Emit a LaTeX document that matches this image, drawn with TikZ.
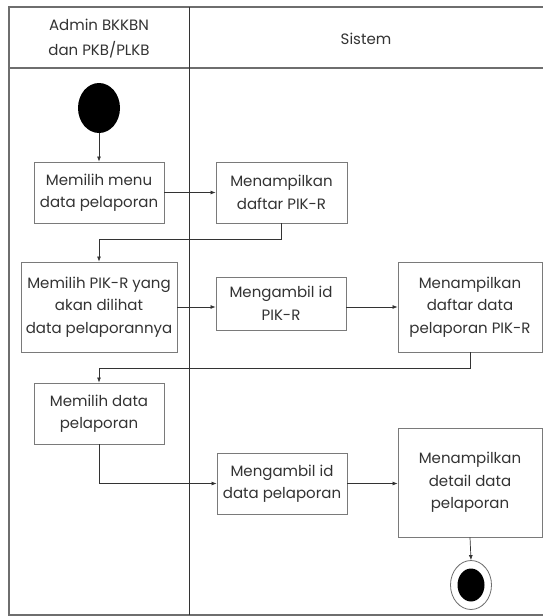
\documentclass[tikz,border=0pt]{standalone}
\usepackage{fontspec}
\setmainfont{Poppins}
\usetikzlibrary{arrows.meta,shapes.geometric}
\definecolor{ink}{HTML}{333333}
\definecolor{frame}{HTML}{6E6E6E}
\definecolor{boxline}{HTML}{7A7A7A}
\tikzset{
  act/.style={draw=boxline, line width=0.9pt, rectangle, align=center,
    text=ink, font=\fontsize{15}{22.5}\selectfont, inner sep=0pt},
  flow/.style={draw=ink, line width=0.7pt, -{Latex[length=5pt,width=4pt]}},
  lane/.style={draw=frame, line width=1.2pt},
  hdr/.style={align=center, text=ink, font=\fontsize{15}{24.5}\selectfont}
}
\begin{document}
\begin{tikzpicture}[x=1pt,y=-1pt]
\useasboundingbox (0,0) rectangle (543,616);
\fill[white] (0,0) rectangle (543,616);

% swimlane frame
\draw[lane] (9,7) rectangle (548,615);
\draw[lane] (9,68) -- (548,68);
\draw[draw=ink, line width=1pt] (189,7) -- (189,615);

% lane headers
\node[hdr] (h1) at (99,38.5) {Admin BKKBN\\dan PKB/PLKB};
\node[hdr] (h2) at (366,38.5) {Sistem};

% start and end states
\node[ellipse, fill=black, minimum width=42, minimum height=50, inner sep=0pt]
  (start) at (99,108) {};
\node[draw=frame, line width=0.8pt, ellipse, minimum width=41, minimum height=49,
      inner sep=0pt] (stop) at (471,585) {};
\node[ellipse, fill=black, minimum width=27, minimum height=33, inner sep=0pt]
  (stopdot) at (stop.center) {};

% activities
\node[act, minimum width=130, minimum height=61] (b1) at (99,192.5)
  {Memilih menu\\data pelaporan};
\node[act, minimum width=131, minimum height=61] (b2) at (281.5,192.5)
  {Menampilkan\\daftar PIK-R};
\node[act, minimum width=156, minimum height=90] (b3) at (99,307)
  {Memilih PIK-R yang\\akan dilihat\\data pelaporannya};
\node[act, minimum width=130, minimum height=53] (b4) at (281,303.5)
  {Mengambil id\\PIK-R};
\node[act, minimum width=144, minimum height=90] (b5) at (470,307)
  {Menampilkan\\daftar data\\pelaporan PIK-R};
\node[act, minimum width=130, minimum height=61] (b6) at (99,413.5)
  {Memilih data\\pelaporan};
\node[act, minimum width=130, minimum height=61] (b7) at (282,483.5)
  {Mengambil id\\data pelaporan};
\node[act, minimum width=144, minimum height=109] (b8) at (470,482.5)
  {Menampilkan\\detail data\\pelaporan};

% control flow
\draw[flow] (start.south) -- (b1.north);
\draw[flow] (b1.east) -- (b2.west);
\draw[flow] (b2.south) -- ++(0,16) -| (b3.north);
\draw[flow] (b3.east) -- (b3.east -| b4.west);
\draw[flow] (b3.east -| b4.east) -- (b3.east -| b5.west);
\draw[flow] (b5.south) -- ++(0,16) -| (b6.north);
\draw[flow] (b6.south) |- (b7.west);
\draw[flow] (b7.east) -- (b7.east -| b8.west);
\draw[flow] (b8.south) -- (stop.north);
\end{tikzpicture}
\end{document}
